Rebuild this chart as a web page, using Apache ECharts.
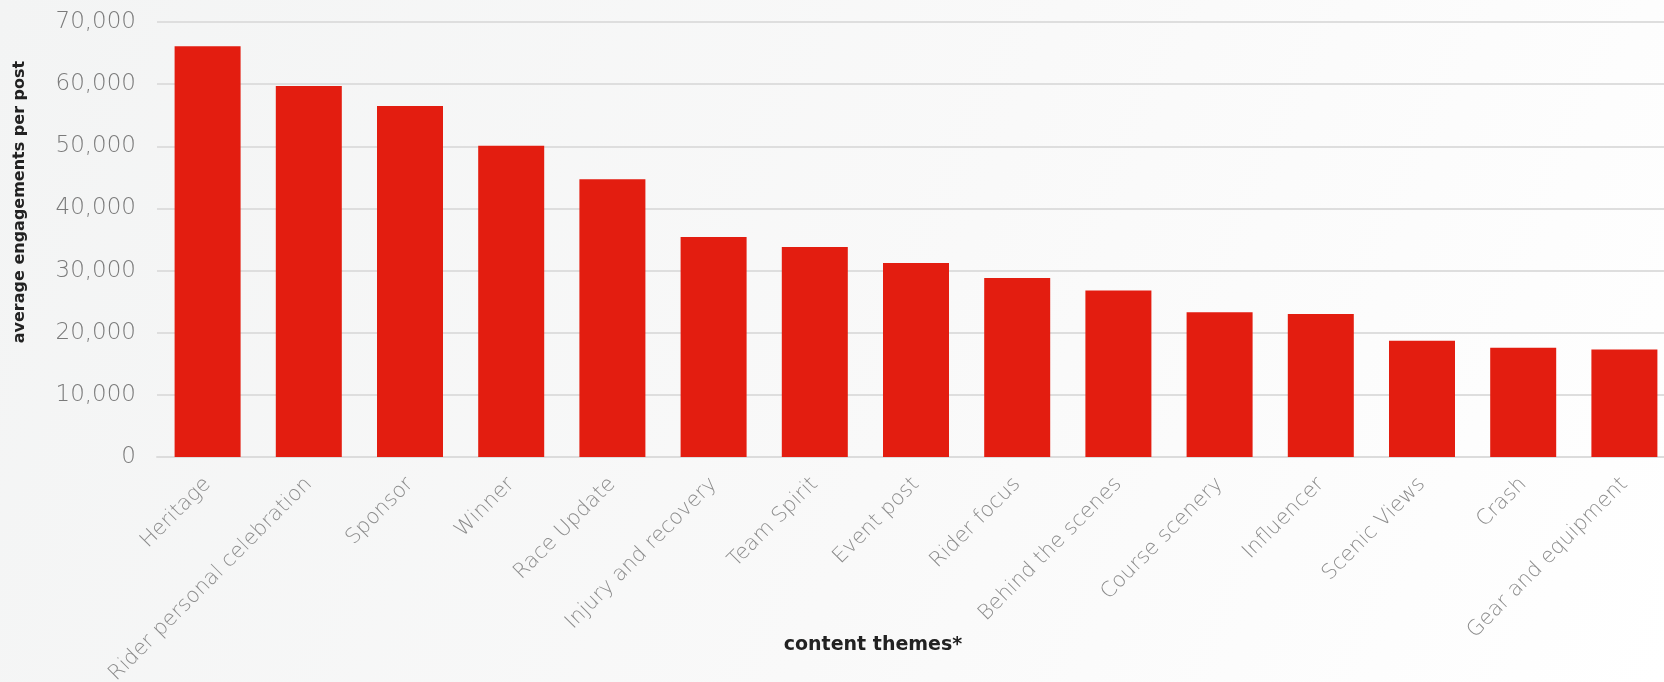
<!DOCTYPE html>
<html>
<head>
<meta charset="utf-8">
<script src="https://cdn.jsdelivr.net/npm/echarts@6/dist/echarts.min.js"></script>
<style>
html,body{margin:0;padding:0;background:#fff;}
#c{width:1664px;height:682px;}
</style>
</head>
<body>
<div id="c"></div>
<script>
const categories = ["Heritage","Rider personal celebration","Sponsor","Winner","Race Update","Injury and recovery","Team Spirit","Event post","Rider focus","Behind the scenes","Course scenery","Influencer","Scenic Views","Crash","Gear and equipment"];
const engagements = [66100, 59700, 56500, 50100, 44700, 35400, 33800, 31200, 28800, 26800, 23300, 23000, 18700, 17600, 17300];
const yTicks = {min: 0, max: 70000, interval: 10000};
const xTitle = "content themes*";
const yTitle = "average engagements per post";

const labelFont = "'DejaVu Sans ExtraLight', 'DejaVu Sans', sans-serif";
const chart = echarts.init(document.getElementById('c'), null, {renderer: 'canvas'});
chart.setOption({
  animation: false,
  backgroundColor: {
    type: 'linear', x: 0, y: 0, x2: 1, y2: 1,
    colorStops: [{offset: 0, color: '#f3f4f4'}, {offset: 0.55, color: '#f9f9f9'}, {offset: 1, color: '#ffffff'}]
  },
  grid: {left: 157, top: 22, width: 1518, height: 435, containLabel: false, outerBoundsMode: 'none'},
  xAxis: {
    type: 'category',
    data: categories,
    axisLine: {show: true, lineStyle: {color: '#dcdcdc', width: 2}},
    axisTick: {show: false},
    axisLabel: {
      rotate: 45, interval: 0, margin: 24,
      fontFamily: labelFont, fontWeight: 200, fontSize: 21, color: '#8c8c8c'
    }
  },
  yAxis: {
    type: 'value',
    min: yTicks.min, max: yTicks.max, interval: yTicks.interval,
    axisLine: {show: false},
    axisTick: {show: false},
    splitLine: {show: true, lineStyle: {color: '#dedede', width: 2}},
    axisLabel: {
      margin: 21,
      fontFamily: labelFont, fontWeight: 200, fontSize: 23, color: '#7a7a7a',
      formatter: v => v.toLocaleString('en-US')
    }
  },
  graphic: [{
    type: 'text',
    x: 20, y: 202,
    rotation: Math.PI / 2,
    style: {
      text: yTitle,
      fontFamily: 'DejaVu Sans', fontWeight: 'bold', fontSize: 16, fill: '#222',
      align: 'center', verticalAlign: 'middle'
    }
  }, {
    type: 'text',
    x: 873, y: 645,
    style: {
      text: xTitle,
      fontFamily: 'DejaVu Sans', fontWeight: 'bold', fontSize: 19, fill: '#222',
      align: 'center', verticalAlign: 'middle'
    }
  }],
  series: [{
    type: 'bar',
    data: engagements,
    barWidth: 66,
    itemStyle: {color: '#e31d10'}
  }]
});
</script>
</body>
</html>
